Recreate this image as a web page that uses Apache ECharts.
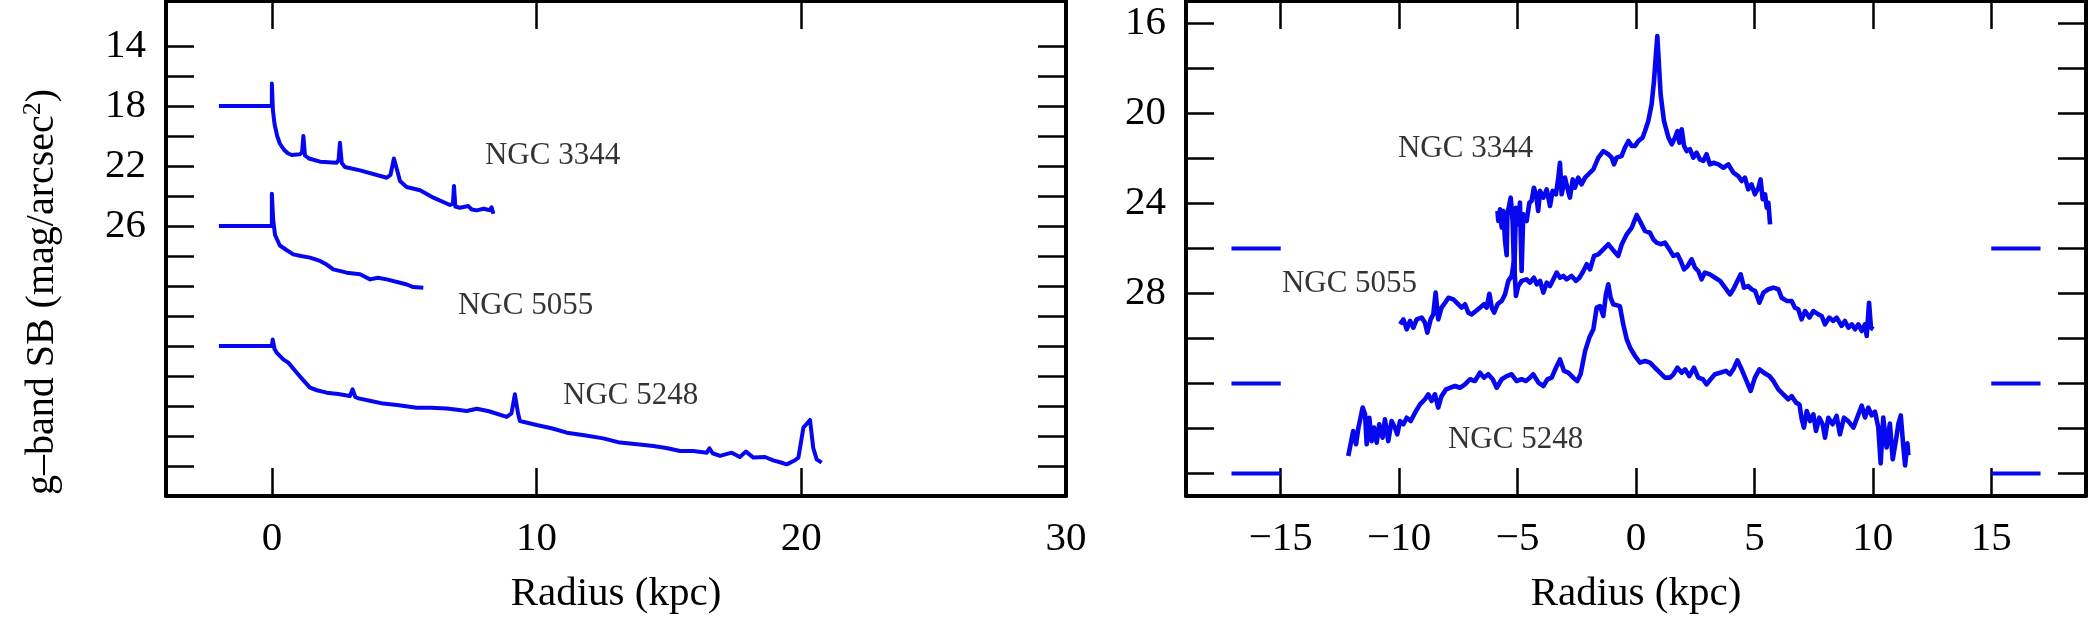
<!DOCTYPE html>
<html>
<head>
<meta charset="utf-8">
<script src="https://cdn.jsdelivr.net/npm/echarts@6/dist/echarts.min.js"></script>
<style>
  html, body { margin: 0; padding: 0; background: #fff; }
  #sb { width: 2096px; height: 625px; }
</style>
</head>
<body>
<div id="sb"></div>
<script>
// surface brightness profiles, [radius kpc, SB mag/arcsec^2] (offset per galaxy)
const left3344 = [[-2, 18], [0, 18], [0, 16.5], [0.04, 18.3], [0.1, 19.2], [0.2, 20.0], [0.3, 20.5], [0.45, 20.9],
  [0.6, 21.15], [0.75, 21.27], [1.05, 21.22], [1.14, 21.1], [1.19, 20.0], [1.25, 21.3], [1.4, 21.5], [1.82, 21.71],
  [2.45, 21.78], [2.52, 21.6], [2.57, 20.45], [2.64, 21.8], [2.76, 22.07], [3.33, 22.29], [4.34, 22.78], [4.48, 22.6],
  [4.61, 21.5], [4.72, 22.2], [4.84, 23.0], [5.09, 23.4], [5.6, 23.62], [6.1, 24.11], [6.73, 24.6], [6.84, 24.5],
  [6.88, 23.33], [6.93, 24.7], [7.1, 24.78], [7.42, 24.67], [7.55, 24.9], [7.74, 24.96], [8.0, 24.85], [8.24, 24.95],
  [8.3, 24.75], [8.37, 25.18]];
const left5055 = [[-2, 26], [0, 26], [0, 23.85], [0.05, 25.6], [0.12, 26.6], [0.3, 27.3], [0.55, 27.6], [0.81, 27.89],
  [1.1, 28.0], [1.44, 28.11], [1.82, 28.33], [2.05, 28.55], [2.32, 28.89], [2.83, 29.11], [3.33, 29.22], [3.71, 29.56],
  [4.0, 29.45], [4.34, 29.56], [4.84, 29.78], [5.1, 29.9], [5.34, 30.07], [5.72, 30.11]];
const left5248 = [[-2, 34], [0, 34], [0.03, 33.56], [0.1, 34.2], [0.18, 34.44], [0.43, 34.89], [0.62, 35.11],
  [0.94, 35.78], [1.19, 36.29], [1.44, 36.78], [1.7, 36.95], [2.07, 37.11], [2.5, 37.2], [2.95, 37.33], [3.05, 36.89],
  [3.15, 37.4], [3.27, 37.49], [3.7, 37.65], [4.21, 37.84], [4.8, 37.95], [5.47, 38.11], [6.0, 38.12], [6.6, 38.16],
  [7.0, 38.25], [7.36, 38.33], [7.74, 38.18], [8.2, 38.35], [8.87, 38.73], [9.05, 38.5], [9.18, 37.22], [9.3, 38.5],
  [9.37, 39.0], [10.0, 39.27], [10.6, 39.5], [11.14, 39.78], [11.8, 39.95], [12.52, 40.16], [13.15, 40.44],
  [13.8, 40.55], [14.41, 40.67], [14.9, 40.8], [15.42, 41.0], [15.92, 41.0], [16.43, 41.11], [16.53, 40.82],
  [16.65, 41.15], [16.93, 41.33], [17.37, 41.11], [17.68, 41.4], [17.91, 41.04], [18.19, 41.44], [18.63, 41.4],
  [18.94, 41.62], [19.2, 41.75], [19.45, 41.89], [19.76, 41.62], [19.89, 41.44], [20.08, 39.44], [20.33, 38.93],
  [20.45, 40.78], [20.58, 41.56], [20.77, 41.78]];

// major-axis cuts, [position kpc, SB]
const right3344 = [[-5.85, 24.33], [-5.81, 24.78], [-5.74, 24.26], [-5.67, 25.07], [-5.6, 24.33], [-5.53, 25.67],
  [-5.46, 26.3], [-5.43, 24.48], [-5.39, 24.41], [-5.29, 23.74], [-5.21, 24.78], [-5.14, 27.3], [-5.07, 24.19],
  [-4.97, 24.93], [-4.9, 23.96], [-4.83, 27.0], [-4.76, 24.48], [-4.62, 24.78], [-4.5, 23.96], [-4.41, 23.89],
  [-4.31, 23.3], [-4.22, 23.59], [-4.13, 24.33], [-4.05, 23.44], [-3.91, 23.74], [-3.77, 23.37], [-3.63, 24.11],
  [-3.52, 23.44], [-3.38, 23.59], [-3.28, 22.85], [-3.21, 22.19], [-3.14, 23.59], [-3.0, 22.85], [-2.9, 23.3],
  [-2.79, 23.74], [-2.67, 22.93], [-2.58, 23.3], [-2.44, 22.85], [-2.3, 23.15], [-2.15, 22.85], [-2.01, 22.7],
  [-1.8, 22.48], [-1.59, 21.96], [-1.38, 21.67], [-1.17, 21.81], [-1.03, 21.96], [-0.93, 22.26], [-0.82, 21.96],
  [-0.61, 21.89], [-0.47, 21.52], [-0.32, 21.22], [-0.18, 21.44], [-0.04, 21.44], [0.1, 21.22], [0.28, 21.07],
  [0.38, 20.78], [0.52, 20.33], [0.66, 19.59], [0.76, 18.56], [0.84, 17.37], [0.9, 16.56], [0.96, 17.67],
  [1.04, 19.15], [1.18, 20.33], [1.37, 21.07], [1.51, 21.37], [1.65, 21.07], [1.75, 20.78], [1.83, 21.3],
  [1.93, 20.7], [2.03, 21.44], [2.14, 21.67], [2.28, 21.59], [2.42, 21.96], [2.56, 21.74], [2.7, 22.04],
  [2.84, 22.11], [2.98, 21.81], [3.12, 22.26], [3.27, 22.19], [3.48, 22.26], [3.69, 22.41], [3.9, 22.26],
  [4.11, 22.63], [4.32, 22.78], [4.46, 23.0], [4.6, 22.85], [4.74, 23.37], [4.88, 23.15], [5.02, 23.59],
  [5.17, 23.3], [5.26, 22.93], [5.35, 23.81], [5.45, 23.59], [5.52, 24.19], [5.59, 23.96], [5.66, 24.93]];
const right5055 = [[-9.96, 29.37], [-9.82, 29.15], [-9.68, 29.59], [-9.54, 29.22], [-9.4, 29.52], [-9.26, 29.15],
  [-9.05, 29.07], [-8.91, 29.3], [-8.81, 29.74], [-8.67, 29.15], [-8.56, 28.93], [-8.46, 27.96], [-8.35, 29.15],
  [-8.21, 28.63], [-8.06, 28.41], [-7.92, 28.19], [-7.71, 28.26], [-7.5, 28.48], [-7.36, 28.63], [-7.22, 28.48],
  [-7.08, 28.85], [-6.94, 28.93], [-6.76, 28.78], [-6.59, 28.63], [-6.42, 28.48], [-6.31, 28.63], [-6.19, 28.01],
  [-6.09, 28.63], [-5.99, 28.85], [-5.85, 28.48], [-5.67, 28.33], [-5.53, 28.04], [-5.39, 27.44], [-5.25, 27.22],
  [-5.15, 26.56], [-5.07, 28.11], [-4.97, 27.67], [-4.83, 27.44], [-4.62, 27.37], [-4.48, 27.52], [-4.31, 27.3],
  [-4.19, 27.59], [-4.05, 27.44], [-3.91, 27.96], [-3.77, 27.52], [-3.63, 27.67], [-3.49, 27.37], [-3.35, 27.07],
  [-3.21, 27.3], [-3.07, 27.22], [-2.93, 27.37], [-2.72, 27.22], [-2.53, 27.44], [-2.39, 27.3], [-2.22, 27.0],
  [-2.08, 26.7], [-1.94, 26.93], [-1.77, 26.33], [-1.59, 26.26], [-1.38, 26.04], [-1.17, 25.81], [-0.99, 26.04],
  [-0.75, 26.33], [-0.6, 25.81], [-0.39, 25.37], [-0.18, 25.07], [0.03, 24.51], [0.2, 24.85], [0.38, 25.22],
  [0.59, 25.3], [0.73, 25.59], [0.87, 25.74], [1.04, 25.81], [1.22, 25.74], [1.41, 26.04], [1.58, 26.33],
  [1.75, 26.26], [1.89, 26.56], [2.03, 26.93], [2.18, 26.78], [2.35, 26.48], [2.49, 26.85], [2.63, 27.0],
  [2.77, 27.37], [2.91, 27.07], [3.12, 27.15], [3.34, 27.3], [3.55, 27.44], [3.76, 27.74], [3.97, 28.04],
  [4.11, 27.81], [4.28, 27.44], [4.42, 27.15], [4.56, 27.74], [4.74, 27.67], [4.88, 27.81], [5.03, 27.89],
  [5.21, 28.41], [5.38, 27.96], [5.59, 27.81], [5.8, 27.74], [6.01, 27.81], [6.15, 28.19], [6.36, 28.33],
  [6.57, 28.33], [6.71, 28.63], [6.85, 28.7], [6.99, 29.15], [7.14, 28.78], [7.32, 29.07], [7.49, 28.78],
  [7.7, 28.93], [7.84, 29.0], [7.98, 29.37], [8.16, 29.07], [8.33, 29.22], [8.47, 29.07], [8.68, 29.44],
  [8.82, 29.22], [8.97, 29.52], [9.11, 29.37], [9.25, 29.59], [9.39, 29.37], [9.53, 29.67], [9.67, 29.37],
  [9.74, 29.89], [9.84, 28.41], [9.92, 29.52], [10.02, 29.59]];
const right5248 = [[-12.15, 35.22], [-12.05, 34.7], [-11.94, 34.11], [-11.82, 34.7], [-11.72, 33.96],
  [-11.63, 33.52], [-11.54, 33.07], [-11.44, 33.37], [-11.37, 34.7], [-11.26, 33.52], [-11.16, 34.56],
  [-11.06, 33.96], [-10.95, 34.63], [-10.84, 33.81], [-10.7, 34.41], [-10.6, 33.59], [-10.46, 34.56],
  [-10.32, 33.67], [-10.18, 33.96], [-10.08, 34.26], [-9.96, 33.67], [-9.82, 33.81], [-9.68, 33.52],
  [-9.51, 33.67], [-9.33, 33.3], [-9.12, 32.93], [-8.91, 32.7], [-8.77, 32.48], [-8.63, 32.78], [-8.49, 32.48],
  [-8.35, 33.07], [-8.21, 32.56], [-8.02, 32.26], [-7.85, 32.19], [-7.64, 32.11], [-7.43, 32.19], [-7.22, 32.04],
  [-7.01, 31.81], [-6.8, 31.89], [-6.59, 31.52], [-6.42, 31.74], [-6.24, 31.59], [-6.05, 31.81], [-5.88, 32.19],
  [-5.67, 31.81], [-5.46, 31.67], [-5.25, 31.59], [-5.04, 31.89], [-4.83, 31.81], [-4.65, 31.89], [-4.48, 31.74],
  [-4.34, 31.59], [-4.12, 31.96], [-3.91, 32.11], [-3.74, 31.81], [-3.56, 31.74], [-3.38, 31.3], [-3.21, 30.93],
  [-3.04, 31.44], [-2.86, 31.52], [-2.65, 31.74], [-2.48, 31.89], [-2.34, 31.59], [-2.15, 30.56], [-1.97, 29.96],
  [-1.8, 29.59], [-1.66, 28.63], [-1.52, 28.56], [-1.38, 29.0], [-1.27, 28.04], [-1.17, 27.59], [-1.07, 28.19],
  [-0.96, 28.48], [-0.68, 28.56], [-0.54, 29.37], [-0.39, 30.04], [-0.25, 30.41], [-0.04, 30.78], [0.17, 31.07],
  [0.38, 31.0], [0.59, 31.07], [0.8, 31.3], [1.01, 31.52], [1.22, 31.74], [1.44, 31.74], [1.58, 31.59],
  [1.75, 31.3], [1.93, 31.52], [2.07, 31.37], [2.25, 31.67], [2.45, 31.3], [2.63, 31.74], [2.82, 31.81],
  [2.98, 32.04], [3.15, 31.81], [3.33, 31.59], [3.55, 31.52], [3.8, 31.44], [3.97, 31.59], [4.11, 31.37],
  [4.28, 30.97], [4.46, 31.37], [4.67, 31.89], [4.84, 32.33], [5.02, 31.74], [5.21, 31.37], [5.4, 31.52],
  [5.63, 31.67], [5.8, 31.89], [6.01, 32.26], [6.22, 32.48], [6.43, 32.7], [6.57, 32.56], [6.76, 32.85],
  [6.9, 32.93], [7.0, 33.59], [7.09, 33.96], [7.21, 33.22], [7.35, 33.67], [7.49, 33.37], [7.6, 34.11],
  [7.74, 33.52], [7.88, 33.81], [7.98, 34.41], [8.12, 33.52], [8.3, 33.81], [8.47, 33.44], [8.61, 34.26],
  [8.78, 33.52], [8.96, 33.67], [9.18, 33.96], [9.39, 33.37], [9.53, 32.98], [9.67, 33.51], [9.81, 33.07],
  [9.95, 33.42], [10.09, 33.25], [10.23, 33.95], [10.33, 35.55], [10.44, 33.51], [10.58, 34.84], [10.72, 33.78],
  [10.84, 35.37], [10.98, 34.49], [11.08, 33.78], [11.18, 33.42], [11.29, 34.84], [11.36, 35.64], [11.46, 34.66],
  [11.5, 35.19]];

// reference-level dashes in the right panel
const dashLevels = [26, 32, 36];
const dashLeftX = [-17.08, -15];
const dashRightX = [15, 17.08];

const galaxyNames = ['NGC 3344', 'NGC 5055', 'NGC 5248'];
const labelPosLeft = [[8.05, 21.3], [7.03, 31.3], [11.0, 37.3]];
const labelPosRight = [[-10.05, 21.55], [-14.95, 27.55], [-7.94, 34.5]];

const leftXTicks = [0, 10, 20, 30];
const rightXTicks = [-15, -10, -5, 0, 5, 10, 15];
const leftYTicks = [14, 16, 18, 20, 22, 24, 26, 28, 30, 32, 34, 36, 38, 40, 42];
const leftYLabels = [14, 18, 22, 26];
const rightYTicks = [16, 18, 20, 22, 24, 26, 28, 30, 32, 34, 36];
const rightYLabels = [16, 20, 24, 28];

const FONT = 'Liberation Serif';
const BLUE = '#0606f0';

let myChart = echarts.init(document.getElementById('sb'));

function axis (grid, pos, min, max, ticks, labels, extra) {
  return Object.assign({
    type: 'value',
    gridIndex: grid,
    position: pos,
    min: min,
    max: max,
    axisLine: { show: true, onZero: false, lineStyle: { color: '#000', width: 4 } },
    axisTick: { show: true, inside: true, length: 28, customValues: ticks, lineStyle: { color: '#000', width: 2.5 } },
    axisLabel: labels ? {
      show: true,
      customValues: labels,
      fontFamily: FONT,
      fontSize: 41,
      color: '#000',
      margin: (pos === 'left' ? 20 : 23),
      formatter: function (v) { return String(v).replace('-', '\u2212') }
    } : { show: false },
    splitLine: { show: false }
  }, extra || {})
}

const xTitle = {
  name: 'Radius (kpc)',
  nameLocation: 'middle',
  nameGap: 78,
  nameTextStyle: { fontFamily: FONT, fontSize: 41, color: '#000' }
};

function profile (data, xi, yi, w) {
  return {
    type: 'line',
    xAxisIndex: xi,
    yAxisIndex: yi,
    data: data,
    showSymbol: false,
    symbol: 'none',
    silent: true,
    lineStyle: { color: BLUE, width: w || 4.6, join: 'round' },
    z: 3
  }
}

function labels (pos, xi, yi) {
  return {
    type: 'scatter',
    xAxisIndex: xi,
    yAxisIndex: yi,
    symbolSize: 0,
    silent: true,
    data: pos.map(function (p, i) { return { value: p, name: galaxyNames[i] } }),
    label: {
      show: true,
      position: 'right',
      distance: 0,
      formatter: '{b}',
      fontFamily: FONT,
      fontSize: 31,
      color: '#000'
    }
  }
}

let series = [
  profile(left3344, 0, 0, 4),
  profile(left5055, 0, 0, 4),
  profile(left5248, 0, 0, 4),
  profile(right3344, 2, 2),
  profile(right5055, 2, 2),
  profile(right5248, 2, 2),
  labels(labelPosLeft, 0, 0),
  labels(labelPosRight, 2, 2)
];
dashLevels.forEach(function (lv) {
  [dashLeftX, dashRightX].forEach(function (xs) {
    series.push(profile(xs.map(function (x) { return [x, lv] }), 2, 2, 4))
  })
});

let option = {
  animation: false,
  backgroundColor: '#fff',
  grid: [
    { left: 166, top: 1, width: 900, height: 495 },
    { left: 1186, top: 1, width: 900, height: 495 }
  ],
  xAxis: [
    axis(0, 'bottom', -4, 30, leftXTicks, leftXTicks, xTitle),
    axis(0, 'top', -4, 30, leftXTicks, null),
    axis(1, 'bottom', -19, 19, rightXTicks, rightXTicks, xTitle),
    axis(1, 'top', -19, 19, rightXTicks, null)
  ],
  yAxis: [
    axis(0, 'left', 11, 44, leftYTicks, leftYLabels, { inverse: true }),
    axis(0, 'right', 11, 44, leftYTicks, null, { inverse: true }),
    axis(1, 'left', 15, 37, rightYTicks, rightYLabels, { inverse: true }),
    axis(1, 'right', 15, 37, rightYTicks, null, { inverse: true })
  ],
  graphic: [
    {
      type: 'text',
      x: 42,
      y: 292,
      rotation: Math.PI / 2,
      style: {
        text: '{a|g\u2013band SB (mag/arcsec}{s|2}{a|)}',
        align: 'center',
        verticalAlign: 'middle',
        fill: '#000',
        rich: {
          a: { fontFamily: FONT, fontSize: 40, lineHeight: 44, fill: '#000' },
          s: { fontFamily: FONT, fontSize: 26, lineHeight: 26, verticalAlign: 'top', fill: '#000' }
        }
      }
    }
  ],
  series: series
};
myChart.setOption(option);
</script>
</body>
</html>
